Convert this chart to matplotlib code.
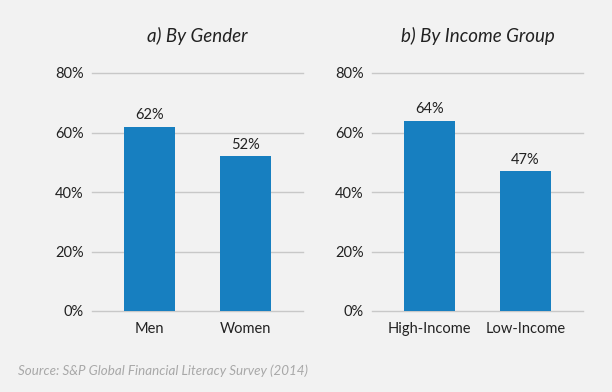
import matplotlib
matplotlib.use('Agg')
import matplotlib.pyplot as plt

plt.rcParams['font.family'] = ['Lato', 'DejaVu Sans']

# data
gender_labels = ['Men', 'Women']
gender_values = [62, 52]
income_labels = ['High-Income', 'Low-Income']
income_values = [64, 47]
y_ticks = [0, 20, 40, 60, 80]

bg = '#f2f2f2'
bar_color = '#177fc0'

fig = plt.figure(figsize=(6.12, 3.92), dpi=100, facecolor=bg)
ax1 = fig.add_axes([92/612, 1-311/392, 211/612, 238/392])
ax2 = fig.add_axes([372/612, 1-311/392, 211/612, 238/392])


def draw_panel(ax, labels, values, title):
    ax.set_facecolor(bg)
    x = range(len(labels))
    ax.bar(x, values, width=0.54, color=bar_color, zorder=3)
    for xi, v in zip(x, values):
        ax.text(xi, v + 1.5, f'{v}%', ha='center', va='bottom', fontsize=10.5, color='#222222')
    ax.set_xlim(-0.6, 1.6)
    ax.set_ylim(0, 80)
    ax.set_yticks(y_ticks)
    ax.set_yticklabels([f'{t}%' for t in y_ticks])
    ax.set_xticks(list(x))
    ax.set_xticklabels(labels)
    ax.tick_params(axis='both', length=0, labelsize=10.5, colors='#222222')
    ax.tick_params(axis='x', pad=8)
    ax.tick_params(axis='y', pad=6)
    ax.grid(axis='y', color='#c8c8c8', linewidth=1, zorder=0)
    ax.set_axisbelow(True)
    for s in ax.spines.values():
        s.set_visible(False)
    ax.set_title(title, fontsize=13.5, style='italic', color='#222222', pad=22)
    for gl in ax.get_ygridlines():
        gl.set_clip_on(False)


draw_panel(ax1, gender_labels, gender_values, 'a) By Gender')
draw_panel(ax2, income_labels, income_values, 'b) By Income Group')

fig.text(18/612, 1-371/392, 'Source: S&P Global Financial Literacy Survey (2014)',
         fontsize=9.6, style='italic', color='#a8a8a8', ha='left', va='center')

fig.savefig('out.png', dpi=100, facecolor=bg)
